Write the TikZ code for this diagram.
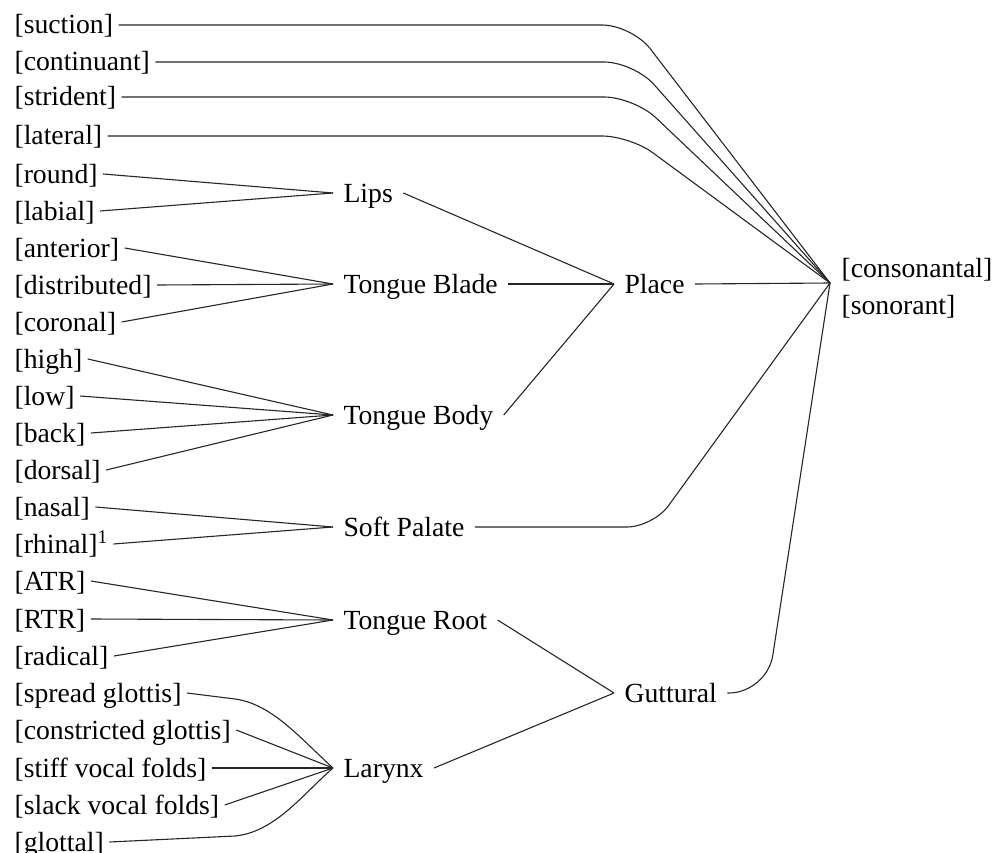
\documentclass[tikz,border=0pt]{standalone}
\usepackage{fontspec}
\setmainfont{Liberation Serif}
\begin{document}
\begin{tikzpicture}[x=1pt,y=-1pt, line width=1.1pt,
  feat/.style={anchor=west, inner xsep=5pt, inner ysep=0pt, text height=21pt, text depth=3pt, font=\fontsize{27.7}{30}\selectfont},
  mid/.style={anchor=west, inner xsep=10pt, inner ysep=0pt, text height=21.5pt, text depth=2.5pt, font=\fontsize{27.7}{30}\selectfont},
  link/.style={draw=black!85}]
\useasboundingbox (0,0) rectangle (995,853);
% feature labels
\node[feat] (suc) at (9,25) {[suction]};
\node[feat] (con) at (9,62) {[continuant]};
\node[feat] (str) at (9,97) {[strident]};
\node[feat] (lat) at (9,136) {[lateral]};
\node[feat] (rou) at (9,174) {[round]};
\node[feat] (lab) at (9,211) {[labial]};
\node[feat] (ant) at (9,248) {[anterior]};
\node[feat] (dis) at (9,285) {[distributed]};
\node[feat] (cor) at (9,322) {[coronal]};
\node[feat] (hig) at (9,359) {[high]};
\node[feat] (low) at (9,396) {[low]};
\node[feat] (bac) at (9,433) {[back]};
\node[feat] (dor) at (9,470) {[dorsal]};
\node[feat] (nas) at (9,507) {[nasal]};
\node[feat] (rhi) at (9,544) {[rhinal]\textsuperscript{1}};
\node[feat] (atr) at (9,581) {[ATR]};
\node[feat] (rtr) at (9,619) {[RTR]};
\node[feat] (rad) at (9,656) {[radical]};
\node[feat] (spr) at (9,693) {[spread glottis]};
\node[feat] (cgl) at (9,730) {[constricted glottis]};
\node[feat] (sti) at (9,768) {[stiff vocal folds]};
\node[feat] (sla) at (9,805) {[slack vocal folds]};
\node[feat] (glo) at (9,842) {[glottal]};
% articulators
\node[mid] (lips) at (333,193) {Lips};
\node[mid] (tbl) at (333,284) {Tongue Blade};
\node[mid] (tbo) at (333,415) {Tongue Body};
\node[mid] (spal) at (333,527) {Soft Palate};
\node[mid] (troot) at (333,620) {Tongue Root};
\node[mid] (lar) at (333,768) {Larynx};
\node[mid] (place) at (614,284) {Place};
\node[mid] (gut) at (614,693) {Guttural};
\coordinate (J) at (830,283);
\node[feat, inner xsep=0pt] (cons) at (841,268) {[consonantal]};
\node[feat, inner xsep=0pt] (son) at (841,305) {[sonorant]};
% top features to root
\draw[link, rounded corners=30pt] (suc.east) -- (632,25) -- (J);
\draw[link, rounded corners=30pt] (con.east) -- (634,62) -- (J);
\draw[link, rounded corners=30pt] (str.east) -- (634,97) -- (J);
\draw[link, rounded corners=28pt] (lat.east) -- (630,136) -- (J);
% features to articulators
\draw[link] (rou.east) -- (lips.west);
\draw[link] (lab.east) -- (lips.west);
\draw[link] (ant.east) -- (tbl.west);
\draw[link] (dis.east) -- (tbl.west);
\draw[link] (cor.east) -- (tbl.west);
\draw[link] (hig.east) -- (tbo.west);
\draw[link] (low.east) -- (tbo.west);
\draw[link] (bac.east) -- (tbo.west);
\draw[link] (dor.east) -- (tbo.west);
\draw[link] (nas.east) -- (spal.west);
\draw[link] (rhi.east) -- (spal.west);
\draw[link] (atr.east) -- (troot.west);
\draw[link] (rtr.east) -- (troot.west);
\draw[link] (rad.east) -- (troot.west);
\draw[link] (spr.east) -- (235,699) .. controls (272,704) and (300,738) .. (lar.west);
\draw[link] (cgl.east) -- (lar.west);
\draw[link] (sti.east) -- (lar.west);
\draw[link] (sla.east) -- (lar.west);
\draw[link] (glo.east) -- (235,836) .. controls (275,832) and (302,795) .. (lar.west);
% articulators to class nodes
\draw[link] (lips.east) -- (place.west);
\draw[link] (tbl.east) -- (place.west);
\draw[link] (tbo.east) -- (place.west);
\draw[link] (troot.east) -- (gut.west);
\draw[link] (lar.east) -- (gut.west);
% class nodes to root
\draw[link] (place.east) -- (J);
\draw[link, rounded corners=26pt] (spal.east) -- (653,527) -- (J);
\draw[link, rounded corners=38pt] (gut.east) -- (767,693) -- (J);
\end{tikzpicture}
\end{document}
